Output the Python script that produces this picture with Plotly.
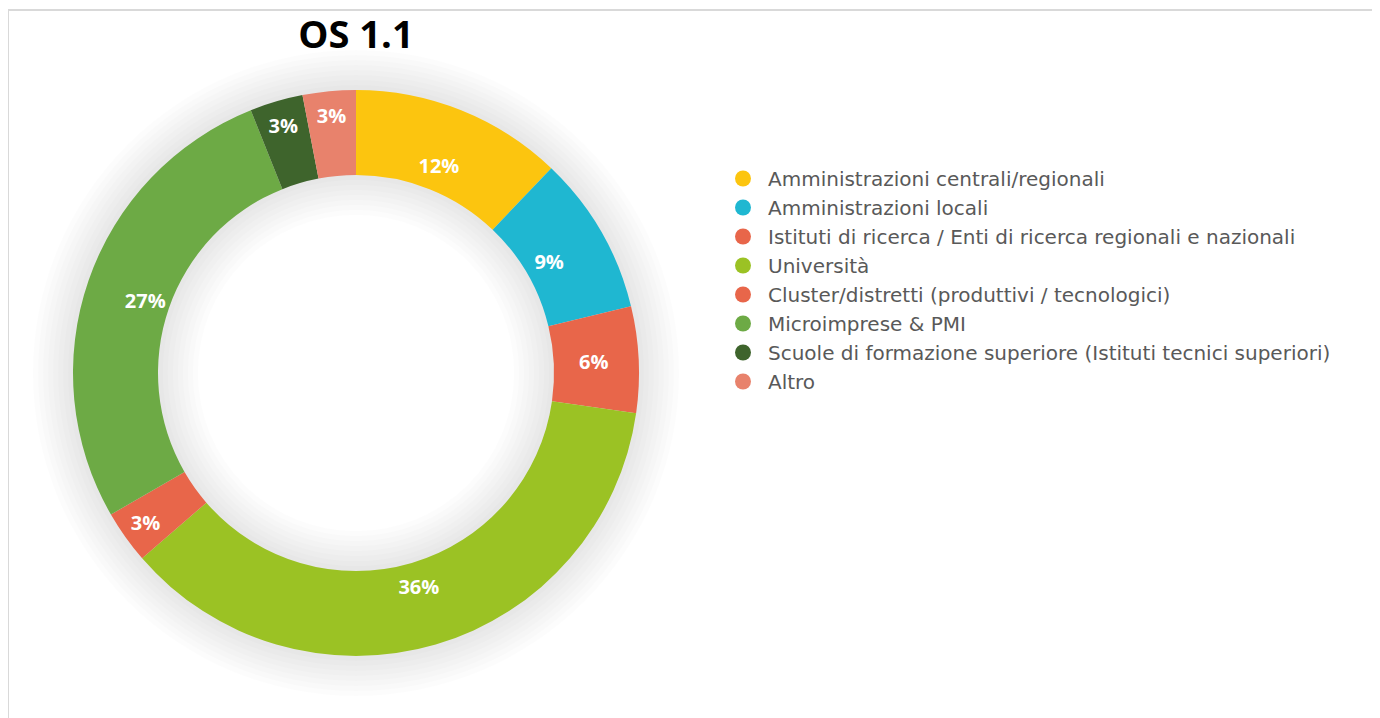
import plotly.graph_objects as go

categories = [
    "Amministrazioni centrali/regionali",
    "Amministrazioni locali",
    "Istituti di ricerca / Enti di ricerca regionali e nazionali",
    "Università",
    "Cluster/distretti (produttivi / tecnologici)",
    "Microimprese & PMI",
    "Scuole di formazione superiore (Istituti tecnici superiori)",
    "Altro",
]
values = [12, 9, 6, 36, 3, 27, 3, 3]
colors = ["#FCC50F", "#1FB7D1", "#E8664A", "#9BC224", "#E8664A", "#6DAA45", "#3E642C", "#E8826C"]
title = "OS 1.1"

# page has an 8px body margin; work in page pixels and subtract it
OFF = 8
W, H = 1380 - OFF, 718 - OFF


def px(x):
    return (x - OFF) / W


def py(y):
    return 1 - (y - OFF) / H


CX, CY = 356, 373      # donut centre (page px)
R_OUT, R_IN = 283, 198  # outer / inner radius (page px)


def dom_for(r):
    return dict(x=[px(CX - r), px(CX + r)], y=[py(CY + r), py(CY - r)])


fig = go.Figure()

# soft shadow: stacked faint grey rings behind the donut
N, STEP = 8, 5
for k in range(1, N + 1):
    ro = R_OUT + k * STEP
    ri = R_IN - k * STEP
    fig.add_trace(go.Pie(
        values=[1], labels=["shadow"],
        marker=dict(colors=["rgba(0,0,0,0.013)"], line=dict(width=0)),
        hole=ri / ro, sort=False, textinfo="none", showlegend=False,
        hoverinfo="skip", domain=dom_for(ro),
    ))

# coloured ring
fig.add_trace(go.Pie(
    labels=categories,
    values=values,
    marker=dict(colors=colors, line=dict(width=0)),
    hole=R_IN / R_OUT,
    sort=False,
    direction="clockwise",
    rotation=0,
    textinfo="none",
    showlegend=False,
    domain=dom_for(R_OUT),
    hoverinfo="label+value",
))
# transparent ring used only to place the value labels a bit further in
fig.add_trace(go.Pie(
    labels=categories,
    values=values,
    marker=dict(colors=["rgba(0,0,0,0)"] * len(values), line=dict(width=0)),
    hole=0.576,
    sort=False,
    direction="clockwise",
    rotation=0,
    texttemplate="%{value}%",
    textposition="inside",
    insidetextorientation="horizontal",
    textfont=dict(family="Open Sans", size=20, color="white", weight="bold"),
    showlegend=False,
    domain=dom_for(R_OUT),
    hoverinfo="skip",
))

for name, col in zip(categories, colors):
    fig.add_trace(go.Scatter(
        x=[None], y=[None], mode="markers", name=name,
        marker=dict(symbol="circle", size=16, color=col),
        showlegend=True,
    ))

fig.update_layout(
    width=W, height=H,
    margin=dict(l=0, r=0, t=0, b=0),
    paper_bgcolor="white", plot_bgcolor="white",
    xaxis=dict(visible=False), yaxis=dict(visible=False),
    title=dict(text="<b>" + title + "</b>", x=px(356), xanchor="center",
               y=py(35), yanchor="middle",
               font=dict(family="Open Sans", size=38, color="black")),
    legend=dict(x=px(718), xanchor="left", y=py(159), yanchor="top",
                itemwidth=40,
                font=dict(family="DejaVu Sans", size=20, color="#595959"),
                bgcolor="rgba(0,0,0,0)", itemclick=False),
    shapes=[
        dict(type="line", xref="paper", yref="paper", x0=0, x1=1, y0=py(10), y1=py(10),
             line=dict(color="#D9D9D9", width=2)),
        dict(type="line", xref="paper", yref="paper", x0=px(8.5), x1=px(8.5), y0=0, y1=py(10),
             line=dict(color="#D9D9D9", width=1)),
    ],
)

fig.write_html("out.html")
